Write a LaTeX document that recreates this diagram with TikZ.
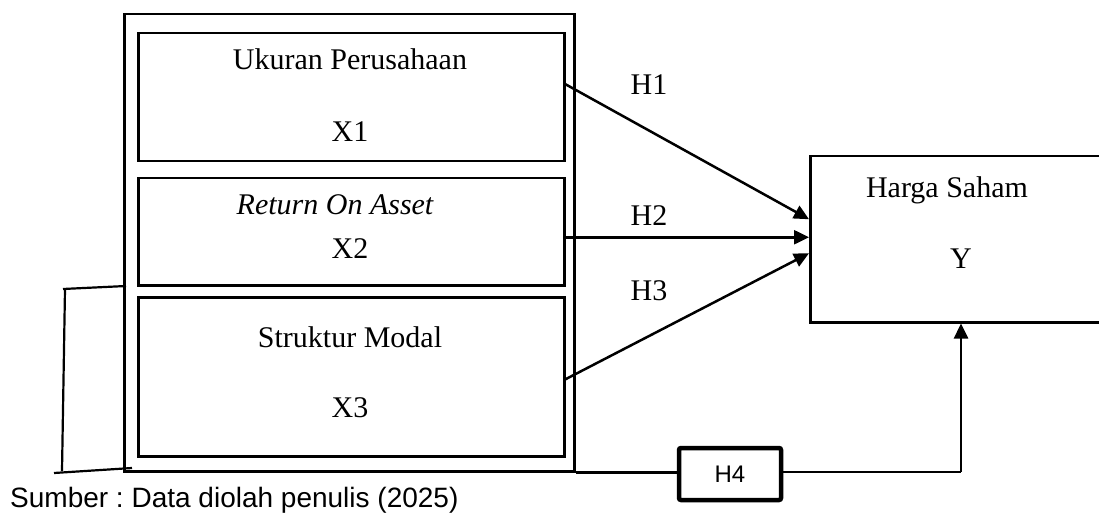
\documentclass[tikz,border=0pt]{standalone}
\usepackage{fontspec}
\setmainfont{Liberation Serif}
\setsansfont{Liberation Sans}
\usetikzlibrary{arrows.meta}
\frenchspacing
\tikzset{
  boxstyle/.style={draw, line width=2.5pt, minimum width=426pt, anchor=north west, inner sep=0pt},
  lbl/.style={font=\fontsize{30}{32}\selectfont, anchor=base, inner sep=0pt},
  conn/.style={line width=2.5pt},
  arr/.style={conn, -{Triangle[length=15pt,width=14pt]}},
  bracket/.style={line width=2.2pt},
}
\begin{document}
\begin{tikzpicture}[x=1pt,y=-1pt]
\clip (0,0) rectangle (1099,513);
\fill[white] (0,0) rectangle (1099,513);
% outer container
\node[draw, line width=2.5pt, minimum width=450pt, minimum height=457pt, anchor=north west, inner sep=0pt] (outer) at (123,13) {};
% inner boxes
\node[boxstyle, minimum height=128pt] (b1) at (137,32) {};
\node[boxstyle, minimum height=107pt] (b2) at (137,177) {};
\node[boxstyle, minimum height=159pt] (b3) at (137,296) {};
\node[lbl] (t1) at (350,70) {Ukuran Perusahaan};
\node[lbl] (x1) at (350,142) {X1};
\node[lbl] (t2) at (335,214) {\itshape Return On Asset};
\node[lbl] (x2) at (350,258) {X2};
\node[lbl] (t3) at (350,347) {Struktur Modal};
\node[lbl] (x3) at (350,417) {X3};
% dependent box
\node[draw, line width=2.5pt, minimum width=330pt, minimum height=166pt, anchor=north west, inner sep=0pt] (Y) at (809,155) {};
\node[lbl] (ty) at (947,197) {Harga Saham};
\node[lbl] (yy) at (961,268) {Y};
% hypothesis arrows
\draw[arr] ([yshift=13pt]b1.east) -- ([yshift=20pt]Y.west);
\draw[arr] ([yshift=-5.5pt]b2.east) -- ([yshift=2pt]Y.west);
\draw[arr] ([yshift=-2.5pt]b3.east) -- ([yshift=-14pt]Y.west);
\node[lbl] (h1) at (649,95) {H1};
\node[lbl] (h2) at (649,225) {H2};
\node[lbl] (h3) at (649,300) {H3};
% H4
\node[draw, line width=4.5pt, rounded corners=2pt, minimum width=102pt, minimum height=52pt, inner sep=0pt, font=\sffamily\fontsize{24}{26}\selectfont] (h4) at (730,474) {H4};
\coordinate (corner) at (961,472);
\draw[conn] (outer.south east) -- (outer.south east -| h4.west);
\draw[conn] (h4.east |- corner) -- (corner);
\draw[arr] (corner) -- (corner |- Y.south);
% bracket
\coordinate (bA) at (63,289);
\coordinate (bB) at (126,286);
\coordinate (bC) at (62,471);
\coordinate (bD) at (54,473);
\coordinate (bE) at (132,468);
\draw[bracket] (bA) -- (bB);
\draw[bracket] ([xshift=2pt]bA) -- (bC);
\draw[bracket] (bD) -- (bE);
% caption
\node[anchor=base west, inner sep=0pt, font=\sffamily\fontsize{28}{30}\selectfont] (cap) at (10,507) {Sumber : Data diolah penulis (2025)};
\end{tikzpicture}
\end{document}
